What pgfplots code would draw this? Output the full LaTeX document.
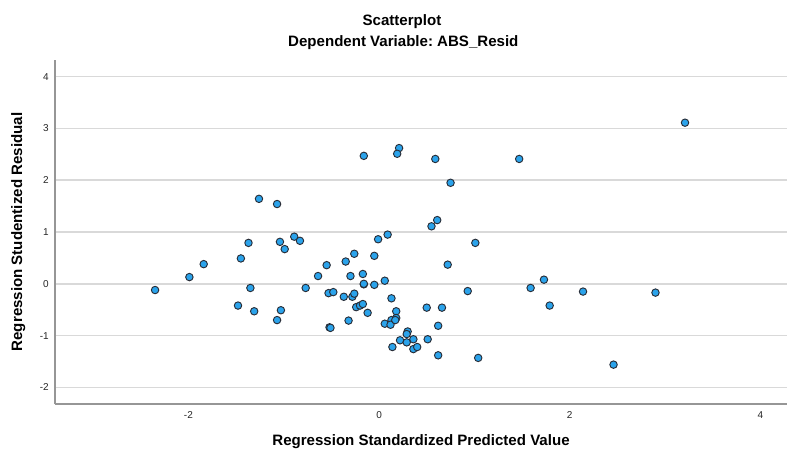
\documentclass[border=0pt]{standalone}
\usepackage{pgfplots}
\pgfplotsset{compat=1.18}
\usepackage{fontspec}
\setmainfont{Liberation Sans}
\frenchspacing
\definecolor{dotfill}{RGB}{43,163,235}
\definecolor{dotedge}{RGB}{40,45,55}
\definecolor{gridc}{RGB}{217,217,217}
\definecolor{spine}{RGB}{150,150,150}
\begin{document}
\begin{tikzpicture}
\useasboundingbox (0,0) rectangle (590.25pt,338.25pt);
\node[anchor=base, font=\bfseries\fontsize{11.3pt}{13pt}\selectfont] at (301.5pt,319.5pt) {Scatterplot};
\node[anchor=base, font=\bfseries\fontsize{11.3pt}{13pt}\selectfont] at (302.5pt,303pt) {Dependent Variable: ABS\_Resid};
\begin{axis}[
  at={(41.25pt,35.25pt)}, anchor=south west,
  scale only axis, width=549pt, height=258pt,
  xmin=-3.40, xmax=4.28, ymin=-2.32, ymax=4.32,
  axis x line*=bottom, axis y line*=left,
  axis line style={-, draw=spine, line width=1pt},
  xtick={-2,0,2,4}, ytick={-2,-1,0,1,2,3,4},
  major tick length=0pt,
  ymajorgrids, grid style={draw=gridc, line width=1.1pt},
  /pgf/number format/assume math mode=true,
  tick label style={font=\fontsize{7.5pt}{9pt}\selectfont, text=black!85},
  yticklabel style={inner sep=0pt, xshift=-4.5pt},
  xticklabel style={inner sep=0pt, yshift=-5.5pt},
  xlabel={Regression Standardized Predicted Value},
  ylabel={Regression Studentized Residual},
  label style={font=\bfseries\fontsize{11.3pt}{13pt}\selectfont},
  xlabel style={at={(axis description cs:0.5,-0.1192)}, anchor=base},
  ylabel style={at={(axis description cs:-0.04508,0.5)}, anchor=base},
  clip=false,
]
\addplot[only marks, mark=*, mark size=2.8pt,
  mark options={fill=dotfill, draw=dotedge, line width=0.7pt}]
coordinates {
(-2.35,-0.12) (-1.99,0.13) (-1.84,0.38) (-1.37,0.79) (-1.45,0.49)
(-1.35,-0.08) (-1.48,-0.42) (-1.31,-0.53) (-1.03,-0.51) (-1.07,-0.70)
(-1.04,0.81) (-0.99,0.67) (-0.89,0.91) (-0.83,0.83) (-1.26,1.64)
(-1.07,1.54) (-0.77,-0.08) (-0.64,0.15) (-0.55,0.36) (-0.53,-0.18)
(-0.48,-0.16) (-0.52,-0.84) (-0.51,-0.85) (-0.35,0.43) (-0.30,0.15)
(-0.26,0.58) (-0.37,-0.25) (-0.28,-0.25) (-0.26,-0.19) (-0.32,-0.71)
(-0.24,-0.45) (-0.20,-0.42) (-0.17,-0.39) (-0.17,0.19) (-0.16,-0.01)
(-0.16,0.00) (-0.05,-0.02) (-0.12,-0.56) (-0.05,0.54) (-0.01,0.86)
(0.09,0.95) (0.06,0.06) (0.13,-0.28) (0.18,-0.53) (0.18,-0.66)
(0.13,-0.70) (0.06,-0.77) (0.12,-0.79) (0.17,-0.70) (0.30,-0.92)
(0.29,-0.97) (0.22,-1.09) (0.29,-1.13) (0.36,-1.07) (0.14,-1.22)
(0.36,-1.26) (0.40,-1.22) (0.51,-1.07) (0.50,-0.46) (0.66,-0.46)
(0.62,-0.81) (0.62,-1.38) (0.72,0.37) (0.55,1.11) (0.61,1.23)
(1.01,0.79) (0.93,-0.14) (1.04,-1.43) (1.59,-0.08) (-0.16,2.47)
(0.21,2.62) (0.19,2.51) (0.59,2.41) (1.47,2.41) (0.75,1.95)
(3.21,3.11) (1.73,0.08) (1.79,-0.42) (2.14,-0.15) (2.90,-0.17)
(2.46,-1.56)
};
\end{axis}
\end{tikzpicture}
\end{document}
